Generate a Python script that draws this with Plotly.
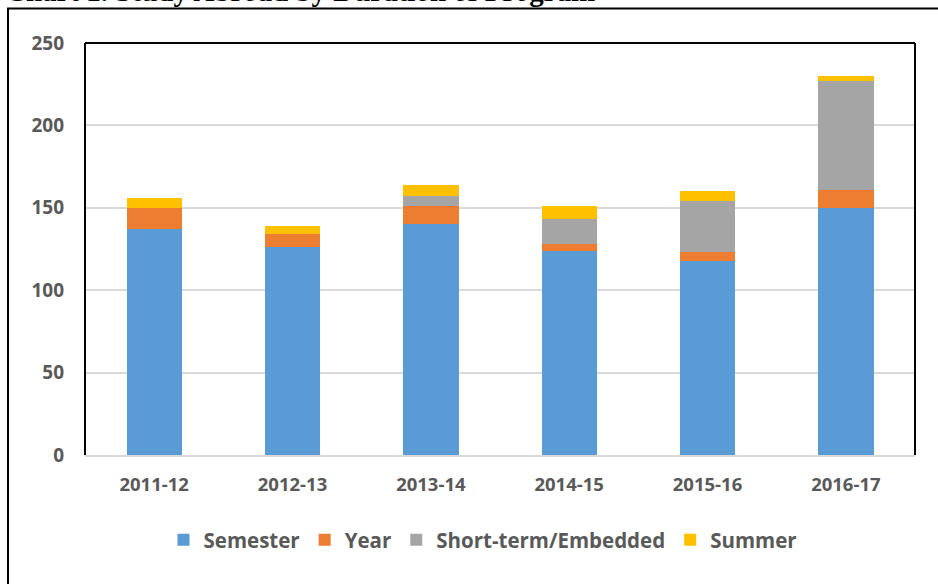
import plotly.graph_objects as go

years = ["2011-12", "2012-13", "2013-14", "2014-15", "2015-16", "2016-17"]
semester = [137, 126, 140, 124, 118, 150]
year_prog = [13, 8, 11, 4, 5, 11]
short_term = [0, 0, 6, 15, 31, 66]
summer = [6, 5, 7, 8, 6, 3]

series_names = ["Semester", "Year", "Short-term/Embedded", "Summer"]
series_values = [semester, year_prog, short_term, summer]
colors = ["#5B9BD5", "#ED7D31", "#A5A5A5", "#FFC000"]
y_ticks = [0, 50, 100, 150, 200, 250]

FONT = "Open Sans"
GRAY = "#595959"

fig = go.Figure()
for name, vals, col in zip(series_names, series_values, colors):
    fig.add_trace(go.Bar(x=years, y=vals, name=name, marker=dict(color=col, line=dict(width=0))))

W, H = 938, 584
L, R, T, B = 85, 23, 43, 129
pw, ph = W - L - R, H - T - B

def px(x):
    return (x - L) / pw

def py(y):
    return (H - B - y) / ph

shapes = [
    # outer frame (left and top)
    dict(type="line", xref="paper", yref="paper", x0=px(8), x1=px(8), y0=py(8.5), y1=py(600),
         line=dict(color="black", width=2)),
    dict(type="line", xref="paper", yref="paper", x0=px(7), x1=px(950), y0=py(8.5), y1=py(8.5),
         line=dict(color="black", width=2)),
    # plot frame
    dict(type="line", xref="paper", yref="paper", x0=0, x1=0, y0=0, y1=1,
         line=dict(color="black", width=2)),
    dict(type="line", xref="paper", yref="paper", x0=0, x1=1, y0=1, y1=1,
         line=dict(color="black", width=2)),
    dict(type="line", xref="paper", yref="paper", x0=1, x1=1, y0=0, y1=1,
         line=dict(color="black", width=2)),
]

fig.update_layout(
    width=W, height=H,
    margin=dict(l=L, r=R, t=T, b=B),
    barmode="stack",
    bargap=0.6,
    plot_bgcolor="white",
    paper_bgcolor="white",
    font=dict(family=FONT, color=GRAY),
    shapes=shapes,
    legend=dict(orientation="h", traceorder="normal", x=px(483), xanchor="center", y=py(540),
                yanchor="middle",
                font=dict(family=FONT, size=20.5, color=GRAY, weight="bold"),
                itemwidth=30, tracegroupgap=0, bgcolor="rgba(0,0,0,0)"),
    xaxis=dict(type="category", showgrid=False, showline=True, linecolor="#D9D9D9", linewidth=2,
               tickfont=dict(family=FONT, size=18.5, color=GRAY, weight="bold"),
               ticks="", ticklabelstandoff=12),
    yaxis=dict(range=[0, 250], tickvals=y_ticks, showgrid=True, gridcolor="#D9D9D9", gridwidth=2,
               zeroline=False, showline=False,
               tickfont=dict(family=FONT, size=19, color=GRAY, weight="bold"),
               ticks="", ticklabelstandoff=20),
    annotations=[
        dict(text="Chart 1. Study Abroad by Duration of Program", xref="paper", yref="paper",
             x=px(3), y=py(-9), xanchor="left", yanchor="middle", showarrow=False,
             font=dict(family="Liberation Serif", size=29, color="black", weight="bold"))
    ],
)

fig.write_html("out.html", config={"displayModeBar": False},
               post_script="document.body.style.margin='0';document.body.style.overflow='hidden';")
